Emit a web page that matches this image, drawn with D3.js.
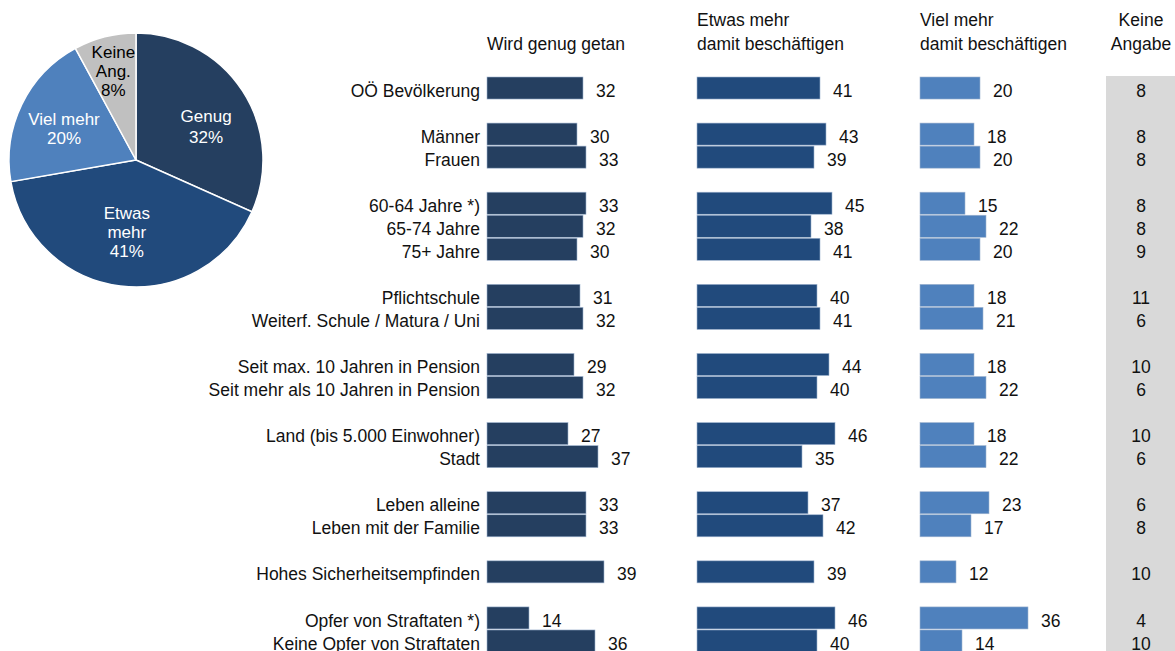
<!DOCTYPE html>
<html><head><meta charset="utf-8">
<script src="https://cdn.jsdelivr.net/npm/d3@7"></script>
<style>body{margin:0;background:#fff}svg{display:block;font-family:"Liberation Sans",Arial,sans-serif}</style>
</head><body><svg id="c" width="1175" height="651"></svg>
<script>
const categories = ["OÖ Bevölkerung","Männer","Frauen","60-64 Jahre *)","65-74 Jahre","75+ Jahre","Pflichtschule","Weiterf. Schule / Matura / Uni","Seit max. 10 Jahren in Pension","Seit mehr als 10 Jahren in Pension","Land (bis 5.000 Einwohner)","Stadt","Leben alleine","Leben mit der Familie","Hohes Sicherheitsempfinden","Opfer von Straftaten *)","Keine Opfer von Straftaten"];
const groups = [0,1,1,2,2,2,3,3,4,4,5,5,6,6,7,8,8];
const genug = [32,30,33,33,32,30,31,32,29,32,27,37,33,33,39,14,36];
const etwas = [41,43,39,45,38,41,40,41,44,40,46,35,37,42,39,46,40];
const viel  = [20,18,20,15,22,20,18,21,18,22,18,22,23,17,12,36,14];
const keine = [8,8,8,8,8,9,11,6,10,6,10,6,6,8,10,4,10];
const pieLabels = [["Genug","32%"],["Etwas","mehr","41%"],["Viel mehr","20%"],["Keine","Ang.","8%"]];
const pieValues = [32,41,20,8];
const headers = [["Wird genug getan"],["Etwas mehr","damit beschäftigen"],["Viel mehr","damit beschäftigen"],["Keine","Angabe"]];

const svg = d3.select("#c");
const FS = 17.5;

// ---- pie ----
const pieColors = ["#253f60","#214a7c","#4f81bd","#c0c0c0"];
const pieTextColors = ["#fff","#fff","#fff","#000"];
const cx = 136, cy = 160, R = 127;
const pie = d3.pie().sort(null).value(d=>d)(pieValues);
const arc = d3.arc().innerRadius(0).outerRadius(R);
const gp = svg.append("g").attr("transform",`translate(${cx},${cy})`);
gp.selectAll("path").data(pie).join("path")
  .attr("d",arc).attr("fill",(d,i)=>pieColors[i]).attr("stroke","#fff").attr("stroke-width",1.5);
const labelR = [80,74,80,92];
const labelShift = [[3,10],[0,-1],[0,3],[0,0]];
pie.forEach((d,i)=>{
  const c = d3.arc().innerRadius(labelR[i]).outerRadius(labelR[i]).centroid(d);
  c[0] += labelShift[i][0]; c[1] += labelShift[i][1];
  const lines = pieLabels[i];
  const lh = i === 0 ? 20.5 : 19;
  const t = gp.append("text").attr("text-anchor","middle").attr("fill",pieTextColors[i]).attr("font-size",17);
  lines.forEach((s,k)=>{
    t.append("tspan").attr("x",c[0]).attr("y",c[1]+(k-(lines.length-1)/2)*lh).attr("dy","0.35em").text(s);
  });
});

// ---- bars ----
const slots = categories.map((c,i)=>i+groups[i]);
const nSlots = d3.max(slots)+1;
const y = d3.scaleBand().domain(d3.range(nSlots)).range([77, 652]).paddingInner(1/23).paddingOuter(0);
const x = d3.scaleLinear().domain([0,1]).range([0,3]);
const txtOff = 2.5;
const cols = [
  {vals:genug, x0:487, color:"#253f60"},
  {vals:etwas, x0:697, color:"#214a7c"},
  {vals:viel,  x0:920, color:"#4f81bd"}
];
// grey column for Keine Angabe
svg.append("rect").attr("x",1106).attr("y",76).attr("width",69).attr("height",575).attr("fill","#d9d9d9");

const rowG = svg.append("g");
categories.forEach((c,i)=>{
  const yc = y(slots[i]) + y.bandwidth()/2 + txtOff;
  rowG.append("text").attr("x",480).attr("y",yc).attr("dy","0.35em").attr("text-anchor","end")
    .attr("font-size",FS).attr("fill","#111").text(c);
});
cols.forEach(col=>{
  const g = svg.append("g");
  g.selectAll("rect").data(col.vals).join("rect")
    .attr("x",col.x0).attr("y",(d,i)=>y(slots[i]))
    .attr("width",d=>x(d)).attr("height",y.bandwidth())
    .attr("fill",col.color).attr("stroke","#9fb4cf").attr("stroke-width",0.6);
  g.selectAll("text").data(col.vals).join("text")
    .attr("x",d=>col.x0+x(d)+13).attr("y",(d,i)=>y(slots[i])+y.bandwidth()/2+txtOff).attr("dy","0.35em")
    .attr("font-size",FS).attr("fill","#111").text(d=>d);
});
svg.append("g").selectAll("text").data(keine).join("text")
  .attr("x",1141).attr("y",(d,i)=>y(slots[i])+y.bandwidth()/2+txtOff).attr("dy","0.35em")
  .attr("text-anchor","middle").attr("font-size",FS).attr("fill","#111").text(d=>d);

// ---- headers ----
const hdrPos = [{x:556,anchor:"middle"},{x:697,anchor:"start"},{x:920,anchor:"start"},{x:1141,anchor:"middle"}];
headers.forEach((h,i)=>{
  const t = svg.append("text").attr("text-anchor",hdrPos[i].anchor).attr("font-size",FS).attr("fill","#111");
  h.forEach((s,k)=>{
    t.append("tspan").attr("x",hdrPos[i].x).attr("y",44-(h.length-1-k)*24).attr("dy","0.35em").text(s);
  });
});
</script></body></html>
